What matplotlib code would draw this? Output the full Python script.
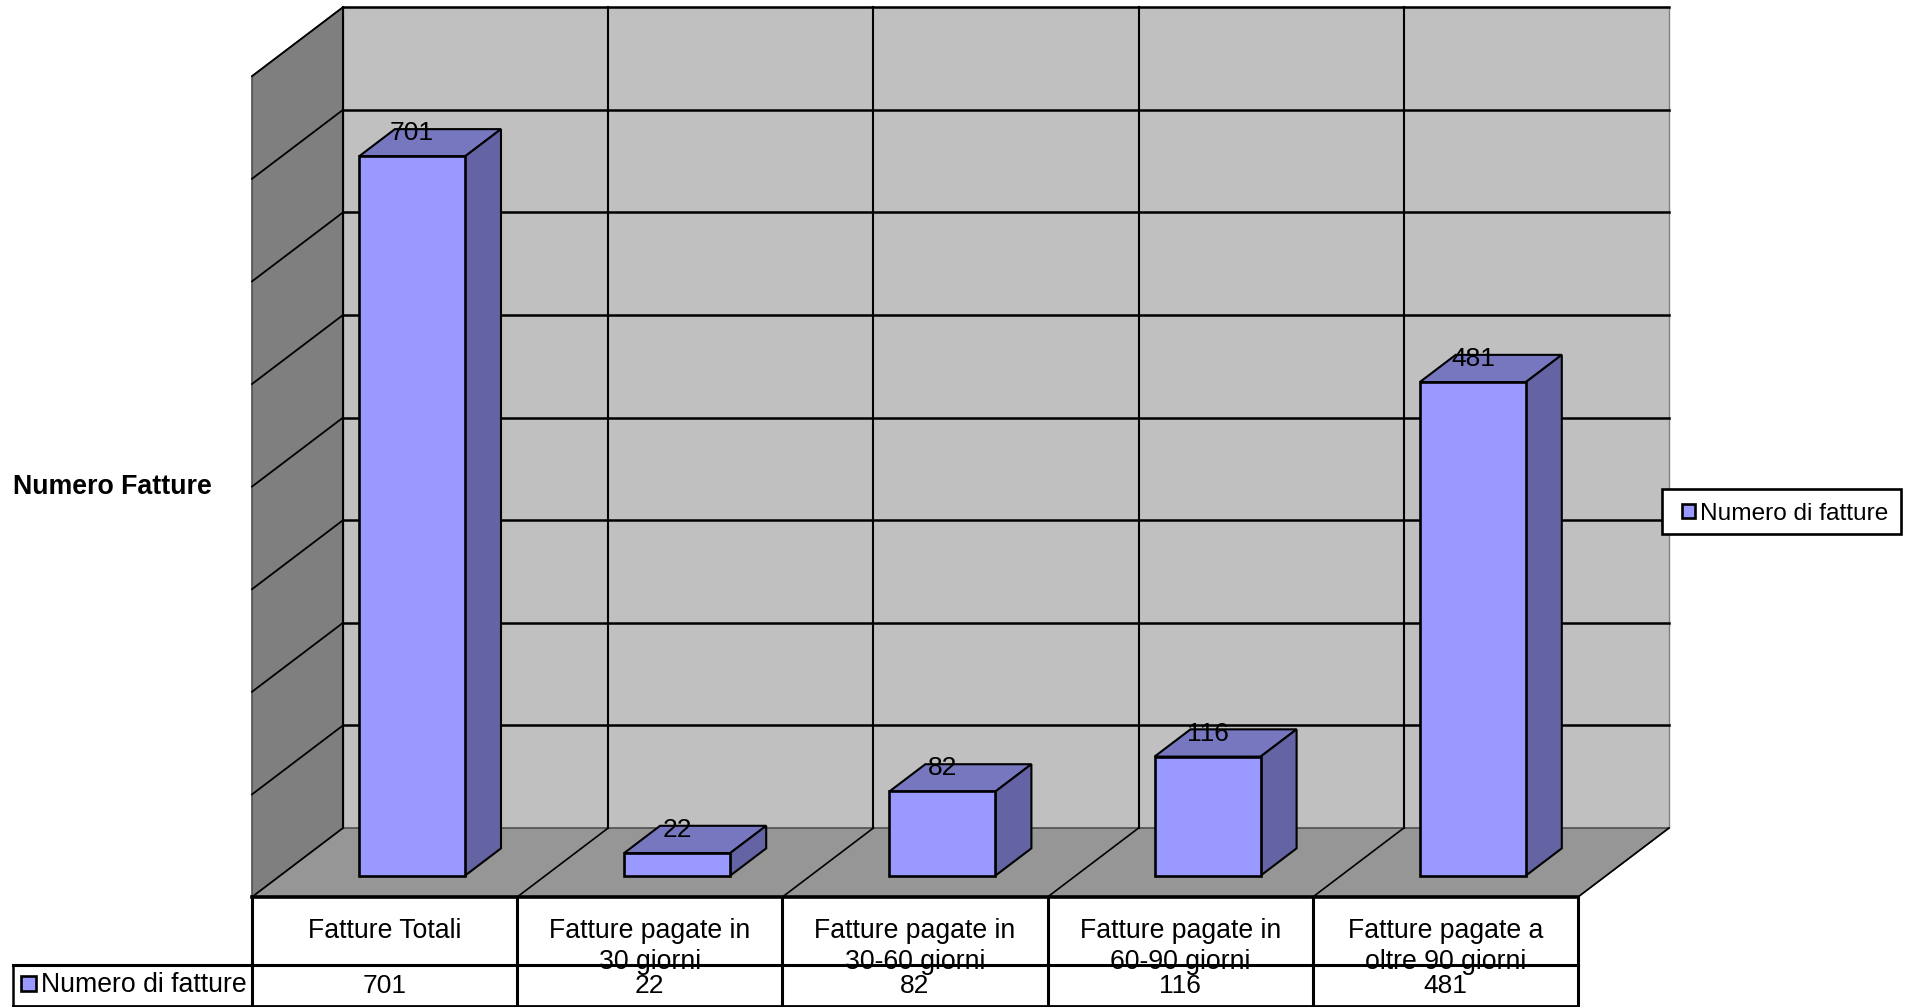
import matplotlib
matplotlib.use("Agg")
import matplotlib.pyplot as plt
from matplotlib.patches import Rectangle, Patch

plt.rcParams['font.family'] = ['Liberation Sans', 'DejaVu Sans']

categories = ["Fatture Totali", "Fatture pagate in\n30 giorni", "Fatture pagate in\n30-60 giorni",
              "Fatture pagate in\n60-90 giorni", "Fatture pagate a\noltre 90 giorni"]
values = [701, 22, 82, 116, 481]
series_name = "Numero di fatture"
axis_title = "Numero Fatture"
grid_values = [0, 100, 200, 300, 400, 500, 600, 700, 800]

W, H = 1910, 1007
PX_X0, PX_Y0 = 252.0, 897.0
PX_CAT, PX_VAL = 265.2, 1.026
DX, DY = 91 / PX_CAT, 69 / PX_VAL
D0, D1 = 0.31, 0.705
GAP, BW = 0.297, 0.40
VMAX = grid_values[-1]
N = len(categories)

fig = plt.figure(figsize=(W / 100, H / 100), dpi=100, facecolor='white')
ax = fig.add_axes([0, 0, 1, 1])
ax.set_xlim(-PX_X0 / PX_CAT, (W - PX_X0) / PX_CAT)
ax.set_ylim(-(H - PX_Y0) / PX_VAL, PX_Y0 / PX_VAL)
ax.axis('off')


def px(x, y):
    """pixel position to data position (layout only)"""
    return (x - PX_X0) / PX_CAT, (PX_Y0 - y) / PX_VAL


def pr(x, v, d):
    return x + d * DX, v + d * DY


def face(pts, **kw):
    ax.fill(*zip(*pts), **kw)


# walls and floor
face([pr(0, 0, 1), pr(N, 0, 1), pr(N, VMAX, 1), pr(0, VMAX, 1)], fc='#C0C0C0', ec='#808080', lw=1, zorder=1)
face([pr(0, 0, 0), pr(0, 0, 1), pr(0, VMAX, 1), pr(0, VMAX, 0)], fc='#7F7F7F', ec='#505050', lw=1.2, zorder=1)
face([pr(0, 0, 0), pr(N, 0, 0), pr(N, 0, 1), pr(0, 0, 1)], fc='#969696', ec='#404040', lw=1, zorder=1.1)

# grid
for g in grid_values[1:]:
    ax.plot(*zip(pr(0, g, 1), pr(N, g, 1)), color='black', lw=1.8, zorder=2)
    ax.plot(*zip(pr(0, g, 0), pr(0, g, 1)), color='black', lw=1.3, zorder=2)
for i in range(N + 1):
    if i < N:
        ax.plot(*zip(pr(i, 0, 1), pr(i, VMAX, 1)), color='black', lw=1.5, zorder=2)
    ax.plot(*zip(pr(i, 0, 0), pr(i, 0, 1)), color='black', lw=1.2, zorder=2)

# bars
for i, v in enumerate(values):
    x0, x1 = i + GAP, i + GAP + BW
    z = 3 + i * 0.1
    face([pr(x0, v, D0), pr(x1, v, D0), pr(x1, v, D1), pr(x0, v, D1)],
         fc='#7777C0', ec='black', lw=1.5, zorder=z)
    face([pr(x1, 0, D0), pr(x1, 0, D1), pr(x1, v, D1), pr(x1, v, D0)],
         fc='#6464A4', ec='black', lw=1.5, zorder=z)
    fx, fy = pr(x0, 0, D0)
    ax.bar(fx, v, width=BW, bottom=fy, align='edge', color='#9999FF',
           edgecolor='black', lw=1.9, zorder=z + 0.01)
    lx, ly = pr(x0 + BW / 2, v, D0)
    ax.text(lx, ly + 22.5, str(v), ha='center', va='center', fontsize=19, color='black', zorder=5)

# data table
y_top, y_mid, y_bot = PX_Y0, 964.5, 1006
table_left = px(13, 0)[0]
_, dy_mid = px(0, y_mid)
_, dy_bot = px(0, y_bot)
_, dy_top = px(0, y_top)
for i, (c, v) in enumerate(zip(categories, values)):
    parts = c.split("\n")
    ax.text(i + 0.5, px(0, 931)[1], parts[0], ha='center', va='center', fontsize=19.2, zorder=5)
    if len(parts) > 1:
        ax.text(i + 0.5, px(0, 962)[1], parts[1], ha='center', va='center', fontsize=19.2, zorder=5)
    ax.text(i + 0.5, px(0, 986)[1], str(v), ha='center', va='center', fontsize=19, zorder=7)

ax.plot([0, N], [dy_top, dy_top], color='black', lw=2.6, zorder=6, solid_capstyle='projecting')
ax.plot([table_left, N], [dy_mid, dy_mid], color='black', lw=2.2, zorder=6, solid_capstyle='projecting')
ax.plot([table_left, N], [dy_bot, dy_bot], color='black', lw=2.0, zorder=6, solid_capstyle='projecting')
ax.plot([table_left, table_left], [dy_mid, dy_bot], color='black', lw=1.8, zorder=6)
for i in range(N + 1):
    ax.plot([i, i], [dy_top, dy_bot], color='black', lw=2.2, zorder=6)

sx0, sy0 = px(21.5, 990.5)
sx1, sy1 = px(36.5, 976)
ax.add_patch(Rectangle((sx0, sy0), sx1 - sx0, sy1 - sy0, fc='#9999FF', ec='black', lw=1.9, zorder=7))
ax.text(px(41.5, 0)[0], px(0, 985)[1], series_name, ha='left', va='center', fontsize=19.2, zorder=7)

# axis title
ax.text(px(13, 0)[0], px(0, 487)[1], axis_title, ha='left', va='center', fontsize=19.3, fontweight='bold')

# legend
bx0, by0 = px(1662, 534)
bx1, by1 = px(1901, 489)
ax.add_patch(Rectangle((bx0, by0), bx1 - bx0, by1 - by0, fc='white', ec='black', lw=1.9, zorder=8))
leg = ax.legend(handles=[Patch(fc='#9999FF', ec='black', lw=1.9, label=series_name)],
                loc='center left', bbox_to_anchor=(1682 / W, 1 - 513.5 / H), bbox_transform=fig.transFigure,
                frameon=False, fontsize=17.6, borderpad=0, borderaxespad=0,
                handlelength=0.54, handleheight=0.54, handletextpad=0.2)
leg.set_zorder(9)

fig.savefig('out.png', dpi=100, facecolor='white')
